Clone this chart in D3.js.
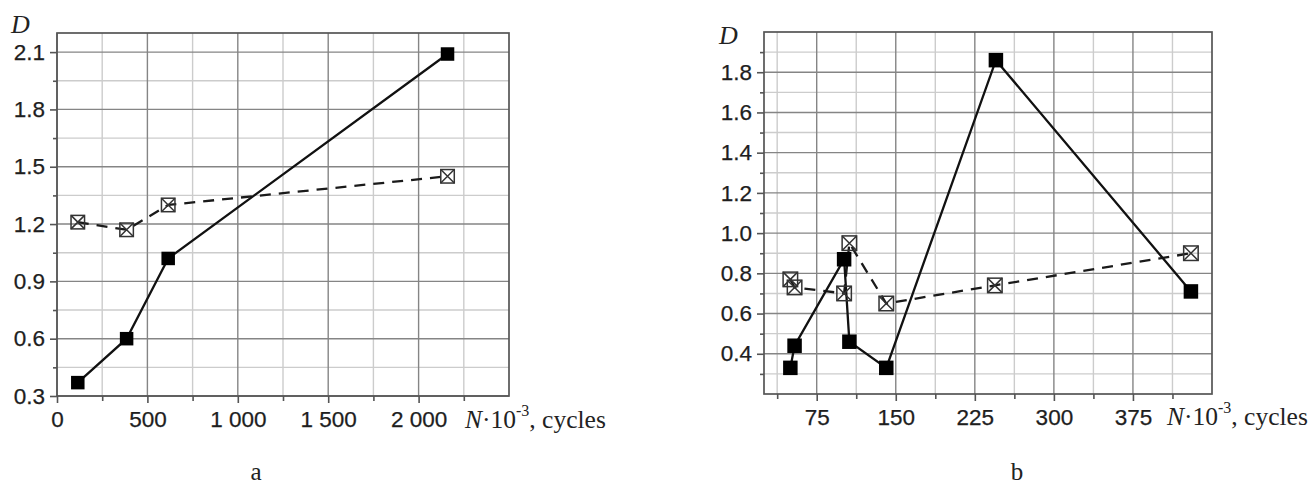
<!DOCTYPE html>
<html>
<head>
<meta charset="utf-8">
<script src="https://cdn.jsdelivr.net/npm/d3@7"></script>
<style>
  html, body { margin: 0; padding: 0; background: #fff; }
  svg { display: block; }
</style>
</head>
<body>
<svg id="chart" width="1316" height="485"></svg>
<script>
// ---- Data: chart a ----
const aCycles = [115, 385, 615, 2160];
const aSolid = [0.37, 0.60, 1.02, 2.09];
const aDashed = [1.21, 1.17, 1.30, 1.45];
const aXTicks = [0, 500, 1000, 1500, 2000];
const aXTickLabels = ["0", "500", "1 000", "1 500", "2 000"];
const aYTicks = [0.3, 0.6, 0.9, 1.2, 1.5, 1.8, 2.1];

// ---- Data: chart b ----
const bCyclesSolid = [50, 54, 101, 106, 141, 245, 430];
const bSolid = [0.33, 0.44, 0.87, 0.46, 0.33, 1.86, 0.71];
const bCyclesDashed = [50, 54, 101, 106, 141, 244, 430];
const bDashed = [0.77, 0.73, 0.70, 0.95, 0.65, 0.74, 0.90];
const bXTicks = [75, 150, 225, 300, 375];
const bXTickLabels = ["75", "150", "225", "300", "375"];
const bYTicks = [0.4, 0.6, 0.8, 1.0, 1.2, 1.4, 1.6, 1.8];

const svg = d3.select("#chart");
const SANS = "'Liberation Sans', Arial, sans-serif";
const SERIF = "'Liberation Serif', 'Times New Roman', serif";

function drawChart(cfg) {
  const x = d3.scaleLinear().domain(cfg.xDomain).range([cfg.left, cfg.right]);
  const y = d3.scaleLinear().domain(cfg.yDomain).range([cfg.bottom, cfg.top]);
  const g = svg.append("g");

  // minor grid
  g.selectAll(".vminor").data(cfg.xMinor).enter().append("line")
    .attr("x1", d => x(d)).attr("x2", d => x(d))
    .attr("y1", cfg.top).attr("y2", cfg.bottom)
    .attr("stroke", "#cccccc").attr("stroke-width", 1.4);
  g.selectAll(".hminor").data(cfg.yMinor).enter().append("line")
    .attr("y1", d => y(d)).attr("y2", d => y(d))
    .attr("x1", cfg.left).attr("x2", cfg.right)
    .attr("stroke", "#cccccc").attr("stroke-width", 1.4);
  // major grid
  g.selectAll(".vmajor").data(cfg.xTicks).enter().append("line")
    .attr("x1", d => x(d)).attr("x2", d => x(d))
    .attr("y1", cfg.top).attr("y2", cfg.bottom)
    .attr("stroke", "#858585").attr("stroke-width", 1.4);
  g.selectAll(".hmajor").data(cfg.yTicks).enter().append("line")
    .attr("y1", d => y(d)).attr("y2", d => y(d))
    .attr("x1", cfg.left).attr("x2", cfg.right)
    .attr("stroke", "#858585").attr("stroke-width", 1.4);

  // frame
  g.append("rect")
    .attr("x", cfg.left).attr("y", cfg.top)
    .attr("width", cfg.right - cfg.left).attr("height", cfg.bottom - cfg.top)
    .attr("fill", "none").attr("stroke", "#555").attr("stroke-width", 1.7);

  // axes
  const xAxis = d3.axisBottom(x).tickValues(cfg.xTicks)
    .tickFormat((d, i) => cfg.xTickLabels[i]).tickSize(7).tickPadding(8).tickSizeOuter(0);
  const xMinorAxis = d3.axisBottom(x).tickValues(cfg.xMinor).tickFormat("").tickSize(5).tickSizeOuter(0);
  const yAxis = d3.axisLeft(y).tickValues(cfg.yTicks)
    .tickFormat(d3.format(".1f")).tickSize(7).tickPadding(5).tickSizeOuter(0);
  const yMinorAxis = d3.axisLeft(y).tickValues(cfg.yMinor).tickFormat("").tickSize(4).tickSizeOuter(0);

  [[xAxis, "x"], [xMinorAxis, "x"], [yAxis, "y"], [yMinorAxis, "y"]].forEach(([ax, k]) => {
    const ag = g.append("g")
      .attr("transform", k === "x" ? `translate(0,${cfg.bottom})` : `translate(${cfg.left},0)`)
      .call(ax);
    ag.select(".domain").remove();
    ag.attr("font-size", null).attr("font-family", null);
    ag.selectAll("line").attr("stroke", "#555").attr("stroke-width", 1.6);
    ag.selectAll("text")
      .style("font-family", SANS).style("font-size", "22.5px")
      .attr("fill", "#1e1e1e").attr("stroke", "#1e1e1e").attr("stroke-width", 0.25);
  });

  // lines
  const dashedPts = cfg.dashedX.map((d, i) => [d, cfg.dashedY[i]]);
  const solidPts = cfg.solidX.map((d, i) => [d, cfg.solidY[i]]);
  const line = d3.line().x(d => x(d[0])).y(d => y(d[1]));

  g.append("path").datum(dashedPts).attr("d", line)
    .attr("fill", "none").attr("stroke", "#1a1a1a").attr("stroke-width", 2.3)
    .attr("stroke-dasharray", "11,8");
  g.append("path").datum(solidPts).attr("d", line)
    .attr("fill", "none").attr("stroke", "#111").attr("stroke-width", 2.3);

  // crossed-square markers
  const s = cfg.msize / 2;
  const cm = g.selectAll(".cm").data(dashedPts).enter().append("g")
    .attr("transform", d => `translate(${x(d[0])},${y(d[1])})`);
  cm.append("rect").attr("x", -s).attr("y", -s).attr("width", 2 * s).attr("height", 2 * s)
    .attr("fill", "none").attr("stroke", "#333").attr("stroke-width", 1.5);
  cm.append("path").attr("d", `M${-s},${-s}L${s},${s}M${-s},${s}L${s},${-s}`)
    .attr("stroke", "#333").attr("stroke-width", 1.5);

  // filled squares
  g.selectAll(".fm").data(solidPts).enter().append("rect")
    .attr("x", d => x(d[0]) - s).attr("y", d => y(d[1]) - s)
    .attr("width", 2 * s).attr("height", 2 * s).attr("fill", "#000");

  // D label
  g.append("text").attr("x", cfg.dLabel[0]).attr("y", cfg.dLabel[1])
    .attr("font-family", SERIF).attr("font-style", "italic").attr("font-size", 26)
    .attr("fill", "#222").text("D");

  // x axis label
  const t = g.append("text").attr("x", cfg.xLabel[0]).attr("y", cfg.xLabel[1])
    .attr("font-family", SERIF).attr("font-size", 25.5).attr("fill", "#222");
  t.append("tspan").attr("font-style", "italic").text("N");
  t.append("tspan").text("·10");
  t.append("tspan").attr("font-size", 16).attr("dy", -12).text("-3");
  t.append("tspan").attr("dy", 12).text(", cycles");

  // caption
  g.append("text").attr("x", cfg.caption[0]).attr("y", cfg.caption[1])
    .attr("text-anchor", "middle")
    .attr("font-family", SERIF).attr("font-size", 25).attr("fill", "#222").text(cfg.captionText);
}

drawChart({
  left: 57, right: 509, top: 33, bottom: 396,
  xDomain: [0, 2500], yDomain: [0.3, 2.2],
  xTicks: aXTicks, xTickLabels: aXTickLabels,
  xMinor: [250, 750, 1250, 1750, 2250],
  yTicks: aYTicks,
  yMinor: [0.45, 0.75, 1.05, 1.35, 1.65, 1.95],
  solidX: aCycles, solidY: aSolid,
  dashedX: aCycles, dashedY: aDashed,
  msize: 13.5,
  dLabel: [11, 33], xLabel: [465, 428], caption: [256, 480], captionText: "a"
});

drawChart({
  left: 764, right: 1212, top: 32, bottom: 394,
  xDomain: [25, 450], yDomain: [0.2, 2.0],
  xTicks: bXTicks, xTickLabels: bXTickLabels,
  xMinor: [37.5, 112.5, 187.5, 262.5, 337.5, 412.5],
  yTicks: bYTicks,
  yMinor: [0.3, 0.5, 0.7, 0.9, 1.1, 1.3, 1.5, 1.7, 1.9],
  solidX: bCyclesSolid, solidY: bSolid,
  dashedX: bCyclesDashed, dashedY: bDashed,
  msize: 14.5,
  dLabel: [719, 44], xLabel: [1167, 425], caption: [1017, 480], captionText: "b"
});
</script>
</body>
</html>
